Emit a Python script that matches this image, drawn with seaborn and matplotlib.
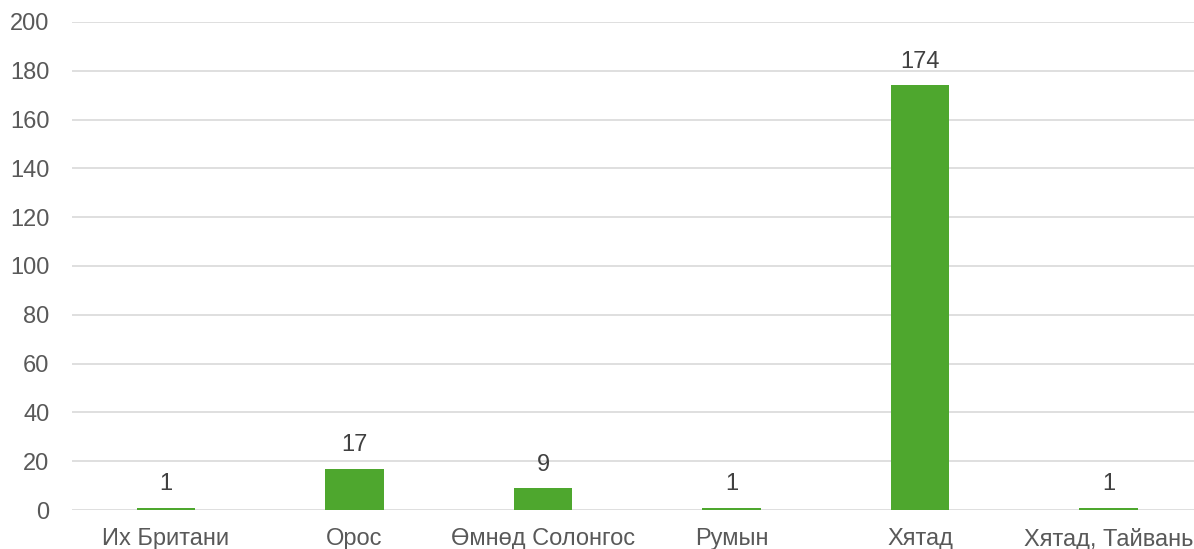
import numpy as np
import pandas as pd
import matplotlib
matplotlib.use("Agg")
import matplotlib.pyplot as plt
import seaborn as sns

countries = ["Их Британи", "Орос", "Өмнөд Солонгос", "Румын", "Хятад", "Хятад, Тайвань"]
counts = [1, 17, 9, 1, 174, 1]
y_ticks = [0, 20, 40, 60, 80, 100, 120, 140, 160, 180, 200]

GREEN = "#4ea72e"

sns.set_style("white")
plt.rcParams["font.family"] = ["Liberation Sans", "DejaVu Sans"]

df = pd.DataFrame({"country": countries, "count": counts})

fig = plt.figure(figsize=(11.94, 5.49), dpi=100)
ax = fig.add_axes([0.06, 0.071, 0.9475, 0.889])

sns.barplot(data=df, x="country", y="count", color=GREEN, width=0.31,
            saturation=1, linewidth=0, ax=ax, zorder=3)

ax.set_ylim(0, 200)
ax.set_xlim(-0.5, len(countries) - 0.5)
ax.set_yticks(y_ticks)
ax.yaxis.grid(True, color="#d9d9d9", linewidth=1.2, zorder=0)
ax.set_axisbelow(True)
for s in ax.spines.values():
    s.set_visible(False)
ax.tick_params(axis="both", length=0, labelsize=17, colors="#595959")
ax.tick_params(axis="x", pad=13)
ax.tick_params(axis="y", pad=16)
ax.set_xlabel(""); ax.set_ylabel("")

for i, v in enumerate(counts):
    ax.text(i, v + 5, str(v), ha="center", va="bottom", fontsize=17, color="#404040")

fig.savefig("out.png", dpi=100)
